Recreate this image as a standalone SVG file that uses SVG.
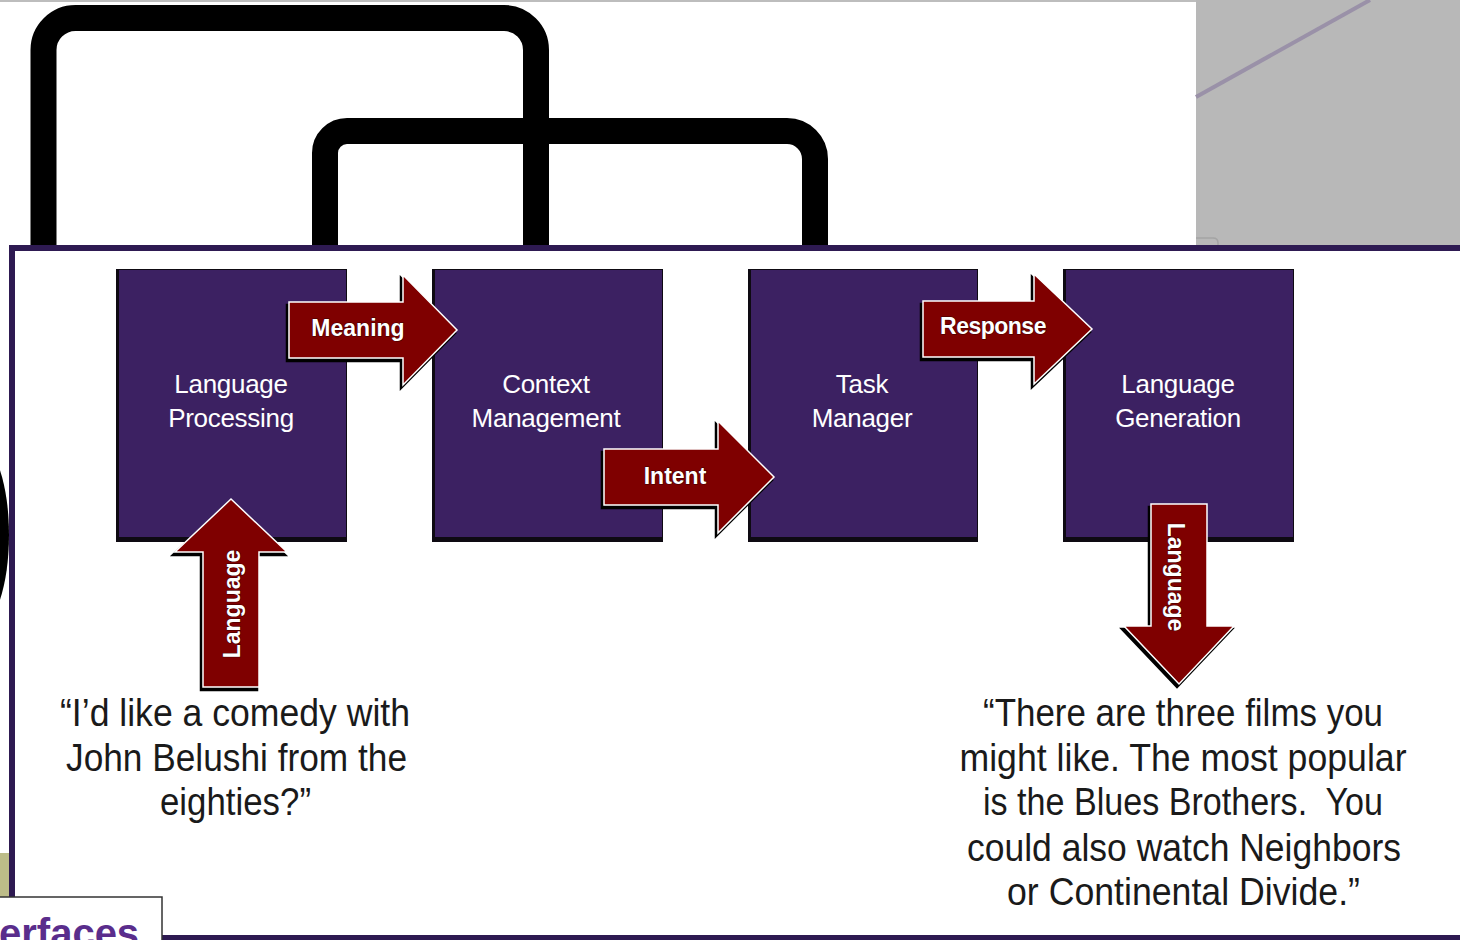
<svg xmlns="http://www.w3.org/2000/svg" width="1460" height="940" viewBox="0 0 1460 940">
<style>
.loop{fill:none;stroke:#000;stroke-width:26}
.box{fill:#3c2162}
.bsh{fill:#0e0a12}
.blab{font-family:"Liberation Sans",Arial,sans-serif;font-size:26px;fill:#fff;text-anchor:middle;letter-spacing:-0.3px}
.arr{fill:#7f0000;stroke:#fff;stroke-width:1.5;stroke-linejoin:miter}
.ash{fill:#000;stroke:#000;stroke-width:2.5}
.alab{font-family:"Liberation Sans",Arial,sans-serif;font-weight:bold;font-size:23px;fill:#fff;text-anchor:middle;stroke:#3a0000;stroke-width:1;paint-order:stroke}
.quote{font-family:"Liberation Sans",Arial,sans-serif;font-size:38px;fill:#1a1a1a;text-anchor:middle}
</style>
<g id="background">
<rect x="0" y="0" width="1460" height="940" fill="#fff"/>
<rect x="0" y="0" width="1196" height="2" fill="#bdbdbd"/>
<rect x="1196" y="0" width="264" height="246" fill="#b8b8b8"/>
<line x1="1196" y1="97" x2="1370" y2="0" stroke="#9a91a8" stroke-width="4"/>
<path d="M1196,238 H1213 Q1218,238 1218,243 V246" fill="none" stroke="#a4a4a4" stroke-width="1.5"/>
<path class="loop" d="M43.5,262 V50 A32,32 0 0 1 75.5,18 H504 A32,32 0 0 1 536,50 V262"/>
<path class="loop" d="M325,262 V153 A22,22 0 0 1 347,131 H787 A28,28 0 0 1 815,159 V262"/>
<ellipse cx="-22" cy="535" rx="31" ry="92" fill="#000"/>
<rect x="0" y="853" width="9" height="44" fill="#bcbc88"/>
<rect x="12" y="248" width="1460" height="690" fill="#fff" stroke="#2e1a52" stroke-width="6"/>
</g>
<g id="node-language-processing">
<rect class="bsh" x="116" y="269" width="231" height="273"/>
<rect class="box" x="119" y="270" width="227" height="267"/>
<text class="blab" x="231" y="393">Language</text>
<text class="blab" x="231" y="427">Processing</text>
</g>
<g id="node-context-management">
<rect class="bsh" x="432" y="269" width="231" height="273"/>
<rect class="box" x="435" y="270" width="227" height="267"/>
<text class="blab" x="546" y="393">Context</text>
<text class="blab" x="546" y="427">Management</text>
</g>
<g id="node-task-manager">
<rect class="bsh" x="748" y="269" width="230" height="273"/>
<rect class="box" x="751" y="270" width="226" height="267"/>
<text class="blab" x="862" y="393">Task</text>
<text class="blab" x="862" y="427">Manager</text>
</g>
<g id="node-language-generation">
<rect class="bsh" x="1063" y="269" width="231" height="273"/>
<rect class="box" x="1066" y="270" width="227" height="267"/>
<text class="blab" x="1178" y="393">Language</text>
<text class="blab" x="1178" y="427">Generation</text>
</g>
<g id="connectors">
<g id="arrow-meaning">
<polygon class="ash" transform="translate(-2,3)" points="289,302 403,302 403,275 457,330 403,385 403,358 289,358"/>
<polygon class="arr" points="289,302 403,302 403,275 457,330 403,385 403,358 289,358"/>
<text class="alab" x="358" y="336">Meaning</text>
</g>
<g id="arrow-intent">
<polygon class="ash" transform="translate(-2,3)" points="604,449 718,449 718,421 774,477 718,533 718,505 604,505"/>
<polygon class="arr" points="604,449 718,449 718,421 774,477 718,533 718,505 604,505"/>
<text class="alab" x="675" y="484">Intent</text>
</g>
<g id="arrow-response">
<polygon class="ash" transform="translate(-2,3)" points="923,301 1034,301 1034,274 1092,329 1034,384 1034,357 923,357"/>
<polygon class="arr" points="923,301 1034,301 1034,274 1092,329 1034,384 1034,357 923,357"/>
<text class="alab" x="993" y="334" style="letter-spacing:-0.5px">Response</text>
</g>
<g id="arrow-language-in">
<polygon class="ash" transform="translate(-2,3)" points="231,499 287,552 259,552 259,687 203,687 203,552 175,552"/>
<polygon class="arr" points="231,499 287,552 259,552 259,687 203,687 203,552 175,552"/>
<text class="alab" transform="translate(240,604) rotate(-90)" x="0" y="0">Language</text>
</g>
<g id="arrow-language-out">
<polygon class="ash" transform="translate(-2,3)" points="1151,504 1207,504 1207,626 1234,626 1179,684 1124,626 1151,626"/>
<polygon class="arr" points="1151,504 1207,504 1207,626 1234,626 1179,684 1124,626 1151,626"/>
<text class="alab" transform="translate(1168,577) rotate(90)" x="0" y="0">Language</text>
</g>
</g>
<g id="quote-user">
<text class="quote" x="235" y="726" textLength="350" lengthAdjust="spacingAndGlyphs">“I’d like a comedy with</text>
<text class="quote" x="236.5" y="771" textLength="341" lengthAdjust="spacingAndGlyphs">John Belushi from the</text>
<text class="quote" x="235.5" y="815" textLength="151" lengthAdjust="spacingAndGlyphs">eighties?”</text>
</g>
<g id="quote-system">
<text class="quote" x="1183" y="726" textLength="400" lengthAdjust="spacingAndGlyphs">“There are three films you</text>
<text class="quote" x="1183" y="771" textLength="447" lengthAdjust="spacingAndGlyphs">might like. The most popular</text>
<text class="quote" x="1183" y="815" textLength="400" lengthAdjust="spacingAndGlyphs" xml:space="preserve">is the Blues Brothers.  You</text>
<text class="quote" x="1184" y="861" textLength="434" lengthAdjust="spacingAndGlyphs">could also watch Neighbors</text>
<text class="quote" x="1183.5" y="905" textLength="353" lengthAdjust="spacingAndGlyphs">or Continental Divide.”</text>
</g>
<g id="tab">
<rect x="-2" y="897" width="164" height="60" fill="#fff" stroke="#333" stroke-width="1.5"/>
<text x="-1" y="947" font-family="'Liberation Sans',Arial,sans-serif" font-weight="bold" font-size="40" fill="#5a2d8c">erfaces</text>
</g>
</svg>
